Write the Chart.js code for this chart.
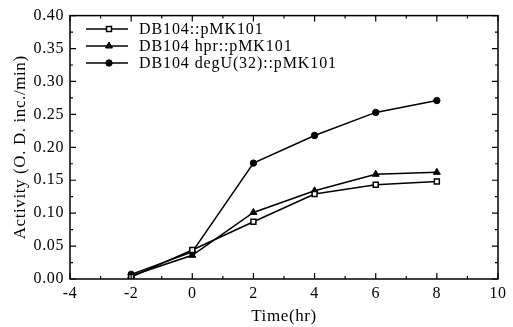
<!DOCTYPE html>
<html>
<head>
<meta charset="utf-8">
<script src="https://cdn.jsdelivr.net/npm/chart.js@4.4.0/dist/chart.umd.min.js"></script>
<style>
  html, body { margin: 0; padding: 0; background: #fff; }
  #wrap { width: 513px; height: 327px; }
</style>
</head>
<body>
<div id="wrap"><canvas id="myChart" width="513" height="327"></canvas></div>
<script>
// values
const timeHr = [-2, 0, 2, 4, 6, 8];
const wildType = [0.003, 0.044, 0.087, 0.129, 0.143, 0.148];
const hprMutant = [0.005, 0.036, 0.101, 0.134, 0.159, 0.162];
const degUMutant = [0.007, 0.041, 0.176, 0.218, 0.253, 0.271];
const seriesNames = ["DB104::pMK101", "DB104 hpr::pMK101", "DB104 degU(32)::pMK101"];
const xTicks = [-4, -2, 0, 2, 4, 6, 8, 10];
const yTicks = [0, 0.05, 0.1, 0.15, 0.2, 0.25, 0.3, 0.35, 0.4];

const serif = "'Liberation Serif', 'DejaVu Serif', serif";

function toPoints(vals) {
    return timeHr.map((t, i) => ({x: t, y: vals[i]}));
}

// the scanned figure uses a wide serif, so spread letters a little
const wideText = {
    id: 'wideText',
    beforeDraw(chart) {
        chart.ctx.letterSpacing = '0.6px';
    }
};

// draws frame, inward ticks and the legend box inside the plot
const frameAndLegend = {
    id: 'frameAndLegend',
    afterDraw(chart) {
        const c = chart.ctx;
        const a = chart.chartArea;
        const xs = chart.scales.x, ys = chart.scales.y;
        c.save();
        c.strokeStyle = '#000';
        c.lineWidth = 1.5;
        c.strokeRect(a.left, a.top, a.right - a.left, a.bottom - a.top);

        c.lineWidth = 1.2;
        c.beginPath();
        for (let v = -4; v <= 10; v += 1) {
            const px = xs.getPixelForValue(v);
            const len = (v % 2 === 0) ? 6 : 3;
            c.moveTo(px, a.bottom); c.lineTo(px, a.bottom - len);
            c.moveTo(px, a.top); c.lineTo(px, a.top + len);
        }
        for (let k = 0; k <= 16; k++) {
            const v = k * 0.025;
            const py = ys.getPixelForValue(v);
            const len = (k % 2 === 0) ? 6 : 3;
            c.moveTo(a.left, py); c.lineTo(a.left + len, py);
            c.moveTo(a.right, py); c.lineTo(a.right - len, py);
        }
        c.stroke();

        // legend
        const rows = [29, 46, 63];
        chart.data.datasets.forEach((ds, i) => {
            const y = rows[i];
            c.strokeStyle = '#000';
            c.lineWidth = 1.5;
            c.beginPath();
            c.moveTo(86, y); c.lineTo(128, y);
            c.stroke();
            const opts = chart.getDatasetMeta(i).data[0].options;
            c.fillStyle = opts.backgroundColor;
            c.strokeStyle = opts.borderColor;
            c.lineWidth = opts.borderWidth;
            Chart.helpers.drawPoint(c, {
                pointStyle: opts.pointStyle,
                radius: opts.radius,
                rotation: 0,
                borderWidth: opts.borderWidth
            }, 109, y);
            c.fillStyle = '#000';
            c.font = '16px ' + serif;
            c.letterSpacing = '0.9px';
            c.textBaseline = 'middle';
            c.textAlign = 'left';
            c.fillText(ds.label, 139, y + 1);
        });
        c.restore();
    }
};

const ctx = document.getElementById('myChart');
const myChart = new Chart(ctx, {
    type: 'scatter',
    data: {
        datasets: [
            {
                label: seriesNames[0],
                data: toPoints(wildType),
                showLine: true,
                borderColor: '#000',
                backgroundColor: '#fff',
                borderWidth: 1.5,
                pointStyle: 'rect',
                pointRadius: 3.5,
                pointBorderWidth: 1.5
            },
            {
                label: seriesNames[1],
                data: toPoints(hprMutant),
                showLine: true,
                borderColor: '#000',
                backgroundColor: '#000',
                borderWidth: 1.5,
                pointStyle: 'triangle',
                pointRadius: 4,
                pointBorderWidth: 1
            },
            {
                label: seriesNames[2],
                data: toPoints(degUMutant),
                showLine: true,
                borderColor: '#000',
                backgroundColor: '#000',
                borderWidth: 1.5,
                pointStyle: 'circle',
                pointRadius: 3.2,
                pointBorderWidth: 1
            }
        ]
    },
    options: {
        responsive: false,
        animation: false,
        layout: { padding: { left: 0, right: 15, top: 6, bottom: 0 } },
        plugins: {
            legend: { display: false },
            tooltip: { enabled: false }
        },
        scales: {
            x: {
                type: 'linear',
                min: -4,
                max: 10,
                afterBuildTicks: (scale) => { scale.ticks = xTicks.map(v => ({value: v})); },
                afterFit: (scale) => { scale.height = 48; },
                grid: { display: false, drawTicks: false },
                border: { display: false },
                ticks: {
                    color: '#000',
                    padding: 5,
                    font: { family: serif, size: 16 },
                    callback: (v) => String(v)
                },
                title: {
                    display: true,
                    text: 'Time(hr)',
                    color: '#000',
                    font: { family: serif, size: 17 },
                    padding: { top: 5, bottom: 0 }
                }
            },
            y: {
                type: 'linear',
                min: 0,
                max: 0.4,
                afterBuildTicks: (scale) => { scale.ticks = yTicks.map(v => ({value: v})); },
                afterFit: (scale) => { scale.width = 70; },
                grid: { display: false, drawTicks: false },
                border: { display: false },
                ticks: {
                    color: '#000',
                    padding: 6,
                    font: { family: serif, size: 16 },
                    callback: (v) => v.toFixed(2)
                },
                title: {
                    display: true,
                    text: 'Activity (O. D. inc./min)',
                    color: '#000',
                    font: { family: serif, size: 17 },
                    padding: { top: 10, bottom: 0 }
                }
            }
        }
    },
    plugins: [wideText, frameAndLegend]
});
</script>
</body>
</html>
